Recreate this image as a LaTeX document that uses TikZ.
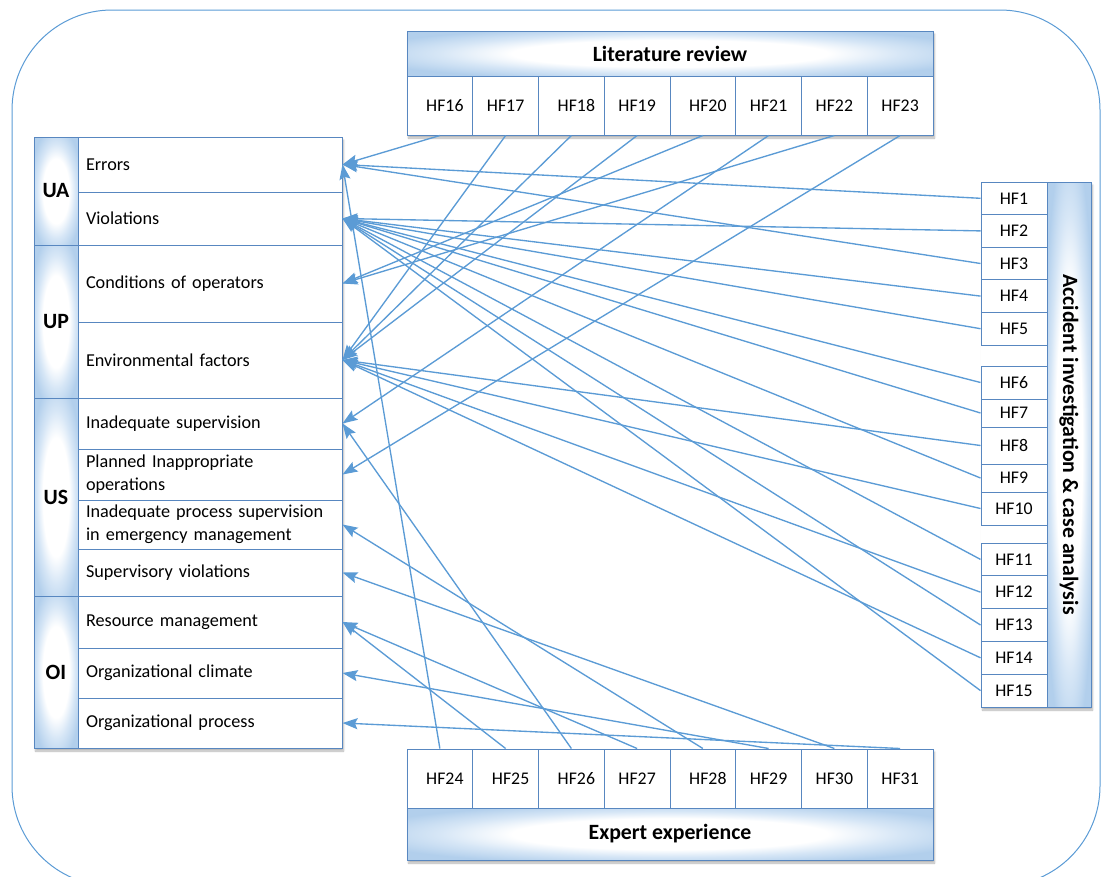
\documentclass[tikz,border=0pt]{standalone}
\usepackage{fontspec}
\setmainfont{Carlito}
\usetikzlibrary{arrows.meta,shadows.blur}
\definecolor{linkblue}{RGB}{91,155,213}
\definecolor{frameblue}{RGB}{88,135,192}
\definecolor{tintblue}{RGB}{178,207,236}
\definecolor{paletint}{RGB}{214,230,246}
% white core fading to a blue tint at the rim; the 50bp centre square is stretched over each box
\pgfdeclareradialshading{softtint}{\pgfpoint{0bp}{0bp}}{color(0bp)=(white); color(15bp)=(white); color(22bp)=(paletint); color(30bp)=(tintblue); color(50bp)=(tintblue)}
\newcommand\bodysize{\fontsize{18.2}{23}\selectfont}
\newcommand\cellsize{\fontsize{17.8}{22}\selectfont}
\newcommand\headsize{\fontsize{21.8}{25}\selectfont\bfseries}

\begin{document}
\begin{tikzpicture}[x=1pt,y=-1pt,
  cell/.style={draw=frameblue, line width=1pt, fill=white, inner sep=0pt, font=\cellsize},
  rowbox/.style={cell, font=\bodysize, text width=248pt, inner xsep=8pt, align=left},
  tinted/.style={draw=frameblue, line width=1pt, shading=softtint, inner sep=0pt, font=\headsize},
  panelshadow/.style={fill=white, draw=none, blur shadow={shadow xshift=1.5pt, shadow yshift=-3pt, shadow opacity=30, shadow blur steps=6}},
  link/.style={draw=linkblue, line width=1.35pt, -{Stealth[length=15pt,width=11pt,inset=2.5pt]}}]
\useasboundingbox (0,0) rectangle (1103,876);

% outer frame
\draw[linkblue, line width=1pt, rounded corners=100pt] (12,10) rectangle (1100,886);

% soft shadows under the four panels
\path[panelshadow] (34,137) rectangle (342,748);
\path[panelshadow] (407,31) rectangle (933,135);
\path[panelshadow] (407,749) rectangle (933,860);
\path[panelshadow] (981,182) rectangle (1091,707);

% ---- HFACS categories (left panel) ----
\node[tinted, minimum width=44pt, minimum height=108pt] (ua) at (56,191) {UA};
\node[tinted, minimum width=44pt, minimum height=153pt] (up) at (56,321.5) {UP};
\node[tinted, minimum width=44pt, minimum height=198pt] (us) at (56,497) {US};
\node[tinted, minimum width=44pt, minimum height=152pt] (oi) at (56,672) {OI};

\node[rowbox, minimum height=55pt] (err)    at (210,164.5) {Errors};
\node[rowbox, minimum height=53pt] (vio)    at (210,218.5) {Violations};
\node[rowbox, minimum height=77pt] (cond)   at (210,283.5) {Conditions of operators};
\node[rowbox, minimum height=76pt] (env)    at (210,360)   {Environmental factors};
\node[rowbox, minimum height=51pt] (insup)  at (210,423.5) {Inadequate supervision};
\node[rowbox, minimum height=51pt] (plan)   at (210,474.5) {Planned Inappropriate\\operations};
\node[rowbox, minimum height=49pt] (inproc) at (210,524.5) {Inadequate process supervision\\in emergency management};
\node[rowbox, minimum height=47pt] (supv)   at (210,572.5) {Supervisory violations};
\node[rowbox, minimum height=52pt] (res)    at (210,622)   {Resource management};
\node[rowbox, minimum height=50pt] (clim)   at (210,673)   {Organizational climate};
\node[rowbox, minimum height=50pt] (proc)   at (210,723)   {Organizational process};

% ---- Literature review (top) ----
\node[tinted, minimum width=526pt, minimum height=45pt] (lit) at (670,53.5) {Literature review};
\foreach \n/\pad [count=\k from 0] in {16/10,17/0,18/10,19/0,20/10,21/0,22/0,23/0}
  \node[cell, minimum width=65.75pt, minimum height=59pt] (hf\n) at ({439.875+65.75*\k},105.5) {\hspace*{\pad pt}HF\n};

% ---- Expert experience (bottom) ----
\foreach \n/\pad [count=\k from 0] in {24/10,25/10,26/10,27/0,28/10,29/0,30/0,31/0}
  \node[cell, minimum width=65.75pt, minimum height=59pt] (hf\n) at ({439.875+65.75*\k},778.5) {\hspace*{\pad pt}HF\n};
\node[tinted, minimum width=526pt, minimum height=52pt] (exp) at (670,834) {Expert experience};

% ---- Accident investigation & case analysis (right) ----
\node[tinted, rotate=-90, minimum width=525pt, minimum height=44pt] (acc) at (1069,444.5) {Accident investigation \& case analysis};
\foreach \n/\a/\b in {1/182/214.6, 2/214.6/247.2, 3/247.2/279.8, 4/279.8/312.4, 5/312.4/345,
                      6/366/399, 7/399/427, 8/427/464, 9/464/492, 10/492/525,
                      11/543/575.8, 12/575.8/608.6, 13/608.6/641.4, 14/641.4/674.2, 15/674.2/707}
  \node[cell, minimum width=66pt, minimum height={(\b-\a)*1pt}] (hf\n) at (1014,{(\a+\b)/2}) {HF\n};

% ---- links from the case analysis ----
\foreach \s/\t in {1/err, 2/vio, 3/err, 4/vio, 5/vio, 6/vio, 7/vio, 8/env, 9/vio,
                   10/env, 11/vio, 12/env, 13/vio, 14/env, 15/vio}
  \draw[link] (hf\s.west) -- (\t.east);

% ---- links from the literature review ----
\foreach \s/\t in {16/err, 17/env, 18/env, 19/env, 20/cond, 21/insup, 22/cond, 23/plan}
  \draw[link] (hf\s.south) -- (\t.east);

% ---- links from expert experience ----
\foreach \s/\t in {24/err, 25/res, 26/insup, 27/res, 28/inproc, 29/clim, 30/supv, 31/proc}
  \draw[link] (hf\s.north) -- (\t.east);
\end{tikzpicture}
\end{document}
